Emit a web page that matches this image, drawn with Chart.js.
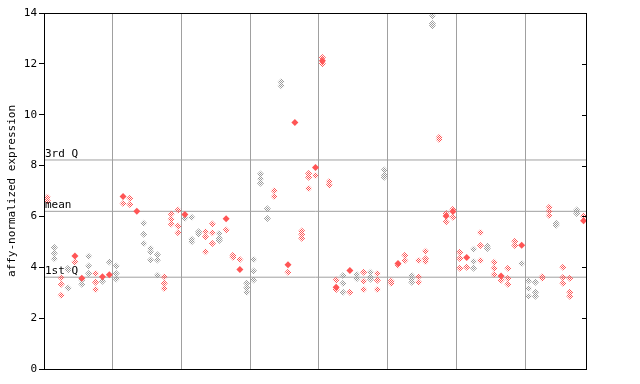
<!DOCTYPE html>
<html>
<head>
<meta charset="utf-8">
<script src="https://cdn.jsdelivr.net/npm/chart.js@4/dist/chart.umd.min.js"></script>
<style>
  html, body { margin: 0; padding: 0; background: #fff; }
  canvas { display: block; }
</style>
</head>
<body>
<canvas id="myChart" width="640" height="384"></canvas>
<script>
// valores por muestra (puntos huecos)
const sampleValues = [
  [6.75, 6.62], [4.78, 4.55, 4.34], [3.59, 3.33, 2.9], [3.96, 3.89, 3.19], [4.21],
  [3.5, 3.33], [4.43, 4.05, 3.76], [3.76, 3.41, 3.13], [3.45], [4.21],
  [4.05, 3.76, 3.54], [6.51], [6.71, 6.47], [], [5.73, 5.3, 4.94],
  [4.74, 4.6, 4.29], [4.49, 4.29, 3.69], [3.63, 3.37, 3.17], [6.1, 5.89, 5.7], [6.25, 5.62, 5.36],
  [5.93], [5.97, 5.1, 5.0], [5.4, 5.31], [5.4, 5.2, 4.61], [5.7, 5.36, 4.94],
  [5.33, 5.14, 5.05], [5.47], [4.47, 4.39], [4.31], [3.37, 3.2, 3.02],
  [4.31, 3.85, 3.5], [7.67, 7.48, 7.3], [6.3, 5.92], [7.01, 6.78], [11.3, 11.14],
  [3.8], [], [5.43, 5.3, 5.14], [7.69, 7.54, 7.1], [7.61],
  [12.25, 12.0], [7.37, 7.24], [3.5, 3.13], [3.68, 3.37, 3.02], [3.02],
  [3.72, 3.55], [3.8, 3.45, 3.13], [3.8, 3.63, 3.53], [3.76, 3.49, 3.13], [7.83, 7.63, 7.54],
  [3.46, 3.37], [4.09], [4.47, 4.27], [3.68, 3.53, 3.41], [4.27, 3.63, 3.41],
  [4.63, 4.34, 4.23], [13.88, 13.59, 13.5], [9.11, 9.03], [6.12, 5.79], [6.28, 5.97],
  [4.59, 4.35, 3.96], [4.0], [4.71, 4.23, 3.96], [5.37, 4.86, 4.27], [4.84, 4.74],
  [4.2, 3.96, 3.72], [3.49], [3.96, 3.57, 3.33], [5.02, 4.86], [4.15],
  [3.46, 3.17, 2.86], [3.41, 3.02, 2.86], [3.64, 3.57], [6.36, 6.2, 6.04], [5.73, 5.65],
  [4.0, 3.6, 3.37], [3.57, 3.02, 2.86], [6.25, 6.12], [6.02]
];

// grupo de cada muestra: 0 = rojo, 1 = gris
const sampleGroup = [
  0, 1, 0, 1, 0, 1, 1, 0, 1, 1,
  1, 0, 0, 0, 1, 1, 1, 0, 0, 0,
  1, 1, 1, 0, 0, 1, 0, 0, 0, 1,
  1, 1, 1, 0, 1, 0, 0, 0, 0, 0,
  0, 0, 0, 1, 0, 1, 0, 1, 0, 1,
  0, 0, 0, 1, 0, 0, 1, 0, 0, 0,
  0, 0, 1, 0, 1, 0, 0, 0, 0, 1,
  1, 1, 0, 0, 1, 0, 0, 1, 0
];

// puntos rellenos (uno por muestra, null si no hay)
const solidValues = [
  null, null, null, null, 4.44, 3.57, null, null, 3.63, 3.71,
  null, 6.78, null, 6.2, null, null, null, null, null, null,
  6.08, null, null, null, null, null, 5.91, null, 3.91, null,
  null, null, null, null, null, 4.1, 9.69, null, null, 7.92,
  12.12, null, 3.21, null, 3.87, null, null, null, null, null,
  null, 4.15, null, null, null, null, null, null, 6.02, 6.19,
  null, 4.38, null, null, null, null, 3.66, null, null, 4.87,
  null, null, null, null, null, null, null, null, 5.83
];

// lineas de referencia
const refLabels = ["3rd Q", "mean", "1st Q"];
const refValues = [8.22, 6.2, 3.61];

const yTicks = [0, 2, 4, 6, 8, 10, 12, 14];
const nSamples = sampleValues.length;
const groupSize = 10;

const red = "#ff5555";
const gray = "#9a9a9a";
const monoFont = "DejaVu Sans Mono";

// patron de tramado (como los rombos punteados del original)
function makeDither(color) {
    const c = document.createElement("canvas");
    c.width = 2; c.height = 2;
    const g = c.getContext("2d");
    g.fillStyle = color;
    g.fillRect(0, 0, 1, 1);
    g.fillRect(1, 1, 1, 1);
    return g.createPattern(c, "repeat");
}
const ditherRed = makeDither(red);
const ditherGray = makeDither(gray);

const hollowPoints = [];
const hollowColors = [];
sampleValues.forEach((vals, i) => {
    vals.forEach(v => {
        hollowPoints.push({x: i + 0.5, y: v});
        hollowColors.push(sampleGroup[i] === 1 ? ditherGray : ditherRed);
    });
});
const solidPoints = [];
solidValues.forEach((v, i) => {
    if (v !== null) solidPoints.push({x: i + 0.5, y: v});
});

const refDatasets = refValues.map((v, i) => ({
    type: "line",
    label: refLabels[i],
    data: [{x: 0, y: v}, {x: nSamples, y: v}],
    borderColor: "#a0a0a0",
    borderWidth: 1,
    pointRadius: 0,
    order: 3
}));

// dibuja etiquetas de las lineas, marco y marcas del eje derecho
const decorPlugin = {
    id: "decor",
    afterDatasetsDraw(chart) {
        const ctx = chart.ctx;
        const area = chart.chartArea;
        const y = chart.scales.y;
        ctx.save();
        ctx.fillStyle = "#000";
        ctx.font = "11px '" + monoFont + "'";
        ctx.textAlign = "left";
        ctx.textBaseline = "bottom";
        refValues.forEach((v, i) => {
            ctx.fillText(refLabels[i], area.left + 1, Math.round(y.getPixelForValue(v)));
        });
        ctx.strokeStyle = "#000";
        ctx.lineWidth = 1;
        ctx.strokeRect(Math.round(area.left) + 0.5, Math.round(area.top) + 0.5,
            Math.round(area.right - area.left) - 1, Math.round(area.bottom - area.top));
        yTicks.forEach(t => {
            const py = Math.round(y.getPixelForValue(t)) + 0.5;
            ctx.beginPath();
            ctx.moveTo(area.right - 5, py);
            ctx.lineTo(area.right, py);
            ctx.stroke();
        });
        ctx.restore();
    }
};

const ctx = document.getElementById("myChart").getContext("2d");
const myChart = new Chart(ctx, {
    type: "scatter",
    data: {
        datasets: [
            {
                label: "samples",
                data: hollowPoints,
                pointStyle: "rectRot",
                pointRadius: 3.5,
                backgroundColor: hollowColors,
                borderWidth: 0,
                order: 2
            },
            {
                label: "solid",
                data: solidPoints,
                pointStyle: "rectRot",
                pointRadius: 3.5,
                backgroundColor: red,
                borderColor: red,
                borderWidth: 0,
                order: 1
            },
            ...refDatasets
        ]
    },
    options: {
        responsive: false,
        animation: false,
        devicePixelRatio: 1,
        layout: {padding: {top: 13, right: 53, bottom: 15, left: 0}},
        plugins: {legend: {display: false}, tooltip: {enabled: false}},
        scales: {
            x: {
                type: "linear",
                min: 0,
                max: nSamples,
                afterFit: scale => { scale.height = 0; },
                afterBuildTicks: scale => {
                    const ticks = [];
                    for (let v = 0; v <= nSamples; v += groupSize) ticks.push({value: v});
                    scale.ticks = ticks;
                },
                ticks: {display: false},
                grid: {color: "#a0a0a0", lineWidth: 1, drawTicks: false},
                border: {display: false}
            },
            y: {
                min: 0,
                max: 14,
                afterFit: scale => { scale.width = 44; },
                afterBuildTicks: scale => { scale.ticks = yTicks.map(v => ({value: v})); },
                ticks: {color: "#000", font: {family: monoFont, size: 11}, padding: 2},
                grid: {drawOnChartArea: false, tickLength: 5, color: "#000"},
                border: {display: false},
                title: {
                    display: true,
                    text: "affy-normalized expression",
                    color: "#000",
                    font: {family: monoFont, size: 11},
                    padding: {top: 6, bottom: 0}
                }
            }
        }
    },
    plugins: [decorPlugin]
});
</script>
</body>
</html>
